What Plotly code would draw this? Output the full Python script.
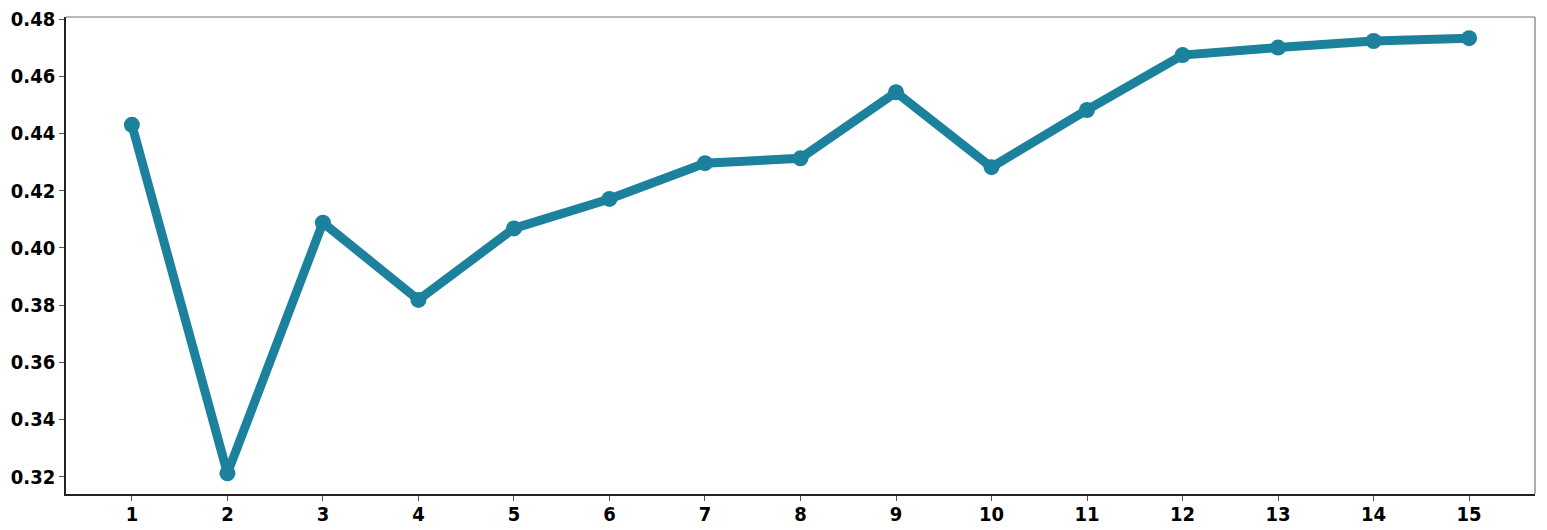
import plotly.graph_objects as go

x_vals = list(range(1, 16))
y_vals = [0.4430, 0.3212, 0.4088, 0.3818, 0.4068, 0.4171, 0.4296, 0.4313,
          0.4544, 0.4282, 0.4482, 0.4674, 0.4700, 0.4723, 0.4733]
y_ticks = [0.32, 0.34, 0.36, 0.38, 0.40, 0.42, 0.44, 0.46, 0.48]

color = "#1c819c"
font_fam = "DejaVu Sans Condensed, Liberation Sans Narrow, sans-serif"

fig = go.Figure()
fig.add_trace(go.Scatter(
    x=x_vals, y=y_vals, mode="lines+markers",
    line=dict(color=color, width=9),
    marker=dict(color=color, size=16),
    showlegend=False,
))

fig.update_layout(
    width=1547, height=530,
    margin=dict(l=66, r=12, t=17, b=36),
    paper_bgcolor="white", plot_bgcolor="white",
    font=dict(family=font_fam, size=20, color="black"),
    xaxis=dict(
        range=[0.31, 15.69], tickmode="array", tickvals=x_vals,
        ticktext=[f"<b>{v}</b>" for v in x_vals],
        showgrid=False, zeroline=False, automargin=False,
        ticklabeloverflow="allow", ticklabelstandoff=-4,
        showline=True, linecolor="#222222", linewidth=1.5,
        ticks="outside", ticklen=5, tickcolor="#555555", tickwidth=1,
    ),
    yaxis=dict(
        range=[0.31395, 0.4807], tickmode="array", tickvals=y_ticks,
        ticktext=[f"<b>{v:.2f}</b>" for v in y_ticks],
        showgrid=False, zeroline=False, automargin=False,
        ticklabeloverflow="allow",
        showline=True, linecolor="#222222", linewidth=1.5,
        ticks="outside", ticklen=5, tickcolor="#555555", tickwidth=1,
    ),
    shapes=[
        dict(type="line", xref="paper", yref="paper", x0=0, x1=1, y0=1, y1=1,
             line=dict(color="#777777", width=1.2)),
        dict(type="line", xref="paper", yref="paper", x0=1, x1=1, y0=0, y1=1,
             line=dict(color="#777777", width=1.2)),
    ],
)

fig.write_html(
    "out.html",
    config={"displayModeBar": False},
    post_script="document.body.style.margin='0';document.body.style.overflow='hidden';",
)
